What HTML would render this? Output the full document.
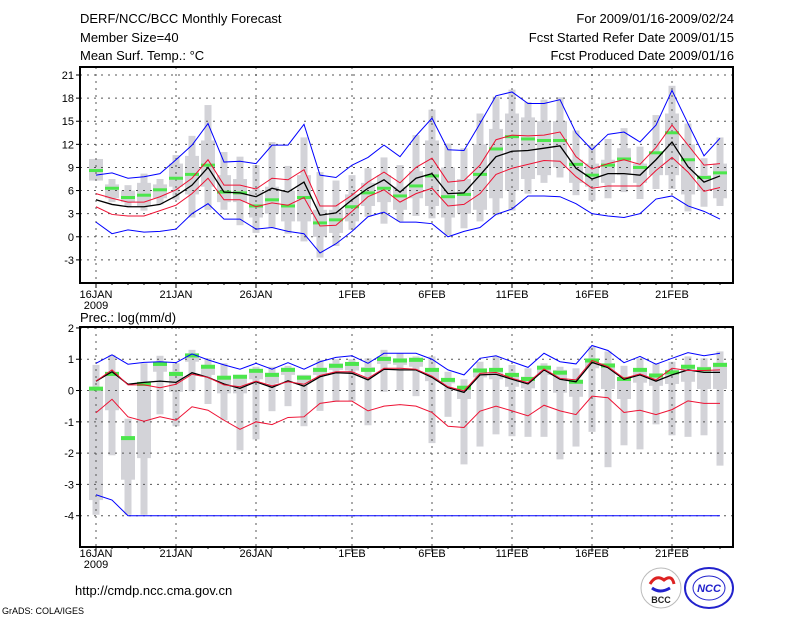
<!DOCTYPE html>
<html><head><meta charset="utf-8"><style>
body{margin:0;background:#fff;width:800px;height:618px;overflow:hidden}
svg{display:block;font-family:"Liberation Sans",sans-serif}
</style></head><body>
<svg id="c" width="800" height="618" xmlns="http://www.w3.org/2000/svg">
<text x="80" y="23" font-size="13">DERF/NCC/BCC Monthly Forecast</text>
<text x="80" y="42" font-size="13">Member Size=40</text>
<text x="80" y="60" font-size="13">Mean Surf. Temp.: °C</text>
<text x="734" y="23" font-size="13" text-anchor="end">For 2009/01/16-2009/02/24</text>
<text x="734" y="42" font-size="13" text-anchor="end">Fcst Started Refer Date 2009/01/15</text>
<text x="734" y="60" font-size="13" text-anchor="end">Fcst Produced Date 2009/01/16</text>
<text x="80" y="322" font-size="13">Prec.: log(mm/d)</text>
<text x="75" y="595" font-size="13">http://cmdp.ncc.cma.gov.cn</text>
<text x="2" y="614" font-size="9">GrADS: COLA/IGES</text>
<g>
<circle cx="661" cy="588" r="20" fill="#fff" stroke="#bbb"/>
<path d="M650 584 q6 -10 14 -4 q8 -6 10 4" stroke="#d22" stroke-width="3" fill="none"/>
<path d="M652 588 q8 6 18 0" stroke="#22c" stroke-width="3" fill="none"/>
<text x="661" y="603" font-size="9" font-weight="bold" text-anchor="middle" fill="#222">BCC</text>
</g>
<g>
<ellipse cx="709" cy="588" rx="24" ry="20" fill="#fff" stroke="#22c" stroke-width="2"/>
<ellipse cx="709" cy="588" rx="16" ry="12" fill="none" stroke="#22c"/>
<text x="709" y="592" font-size="11" font-weight="bold" font-style="italic" text-anchor="middle" fill="#22c">NCC</text>
</g>
</svg>
<script>
// ---- temperature data (40 days from 16JAN) ----
const dayLabels=["16JAN","21JAN","26JAN","1FEB","6FEB","11FEB","16FEB","21FEB"];
const labelDays=[0,5,10,16,21,26,31,36];
const tBlueHi=[8.0,8.3,7.6,7.8,8.2,10.0,11.9,14.7,9.7,9.8,9.5,11.9,11.9,14.6,8.0,7.7,9.3,10.3,11.9,10.4,13.1,15.4,11.3,11.2,14.7,18.3,18.8,17.3,17.3,17.8,13.5,11.3,13.3,13.6,12.3,14.5,19.0,14.7,10.5,12.8];
const tRedHi=[5.6,5.0,4.5,4.5,5.2,6.1,7.6,10.0,6.7,6.7,6.2,7.6,7.4,8.7,4.0,4.0,5.4,7.1,8.4,7.0,9.0,10.2,7.1,7.3,9.3,12.6,13.2,13.1,13.2,13.6,10.4,8.8,9.5,10.0,9.4,11.6,14.5,11.9,9.3,9.5];
const tMean=[4.8,4.2,3.9,3.9,4.2,5.3,6.7,9.0,5.8,5.7,5.2,6.3,5.8,7.1,2.8,3.1,4.8,6.3,7.4,5.8,7.6,8.2,5.6,5.7,8.0,10.4,11.1,11.2,11.5,11.8,8.9,7.5,8.2,8.2,8.0,10.0,12.3,9.1,7.1,7.9];
const tRedLo=[3.9,2.9,2.7,2.7,3.4,4.1,5.6,7.6,4.8,4.8,3.9,4.4,4.1,5.1,1.4,1.5,3.3,5.2,6.1,4.5,5.6,6.3,4.0,4.2,5.6,8.1,8.9,9.4,9.9,9.8,7.8,6.3,6.6,6.6,6.6,8.6,10.3,8.4,5.9,6.4];
const tBlueLo=[1.9,0.4,0.9,0.6,0.7,1.0,3.0,4.3,2.3,2.3,1.0,1.2,0.7,0.4,-2.1,-0.9,0.7,2.6,3.2,1.9,1.9,1.7,0.0,0.7,1.2,2.9,3.6,5.3,5.3,5.2,4.3,3.0,2.7,2.5,3.0,4.9,5.3,4.0,3.3,2.3];
const tGreen=[8.6,6.3,5.1,5.4,6.1,7.6,8.1,9.3,5.8,5.7,4.0,4.8,4.0,5.1,1.8,2.2,3.9,5.7,6.3,5.3,6.6,7.9,5.2,5.5,8.1,11.4,13.0,12.7,12.5,12.5,9.4,8.0,9.3,10.1,9.0,10.9,13.5,10.0,7.7,8.3];
const tMax=[10.1,7.5,6.7,8.2,7.5,10.6,13.1,17.1,11.0,10.4,9.3,12.3,9.2,12.9,8.4,7.3,8.0,8.9,10.3,9.3,13.2,16.5,12.1,11.5,16.0,18.2,19.1,17.5,17.8,18.1,13.8,11.9,12.7,14.1,11.7,15.8,19.6,14.7,10.2,12.9];
const tMin=[7.3,4.5,3.9,3.4,4.2,4.8,2.5,3.5,3.5,1.5,0.5,1.2,0.4,-0.6,-2.7,-1.2,0.9,2.6,1.7,2.0,2.7,2.4,0.2,1.1,2.0,2.8,3.4,5.6,7.0,7.7,5.4,4.7,5.0,5.8,4.9,6.2,6.2,3.3,3.9,4.0];
const tQ3=[10.1,6.8,6.0,7.0,6.8,9.5,10.5,12.5,8.0,7.5,6.0,6.5,6.0,8.0,3.5,3.5,5.5,7.0,8.0,6.5,8.5,12.5,9.0,7.5,12.0,14.0,16.0,15.5,15.0,15.0,10.0,9.5,10.0,11.5,9.5,11.0,16.0,12.0,8.0,9.5];
const tQ1=[7.3,5.0,4.5,4.0,5.0,6.5,5.5,6.5,4.5,4.5,2.5,3.0,2.0,2.0,0.0,0.5,2.0,4.0,4.5,3.5,5.0,4.0,2.5,3.0,3.5,5.0,6.0,7.5,8.0,9.0,7.0,6.5,7.0,8.0,7.0,8.0,8.0,5.5,6.0,5.0];
const tTicks=[-6,-3,0,3,6,9,12,15,18,21];
// ---- precipitation data ----
const pBlueHi=[0.87,1.14,0.84,0.90,0.92,0.89,1.17,0.98,0.82,0.68,0.87,0.68,0.89,0.68,0.92,1.06,1.11,0.87,1.19,1.19,1.19,1.0,0.66,0.5,1.03,1.11,0.92,0.74,1.19,0.92,0.85,1.44,1.28,0.89,1.09,0.84,1.03,1.21,1.11,1.19];
const pRedHi=[0.30,0.66,0.18,0.18,0.09,0.20,0.52,0.42,0.18,0.12,0.30,0.15,0.28,0.20,0.48,0.60,0.60,0.39,0.71,0.71,0.68,0.46,0.12,-0.01,0.55,0.58,0.39,0.25,0.69,0.39,0.34,0.96,0.76,0.39,0.53,0.34,0.71,0.64,0.64,0.66];
const pMean=[0.30,0.60,0.20,0.26,0.30,0.26,0.57,0.42,0.21,0.07,0.28,0.10,0.31,0.14,0.44,0.57,0.55,0.34,0.68,0.66,0.66,0.42,0.09,-0.06,0.50,0.52,0.36,0.21,0.66,0.36,0.28,0.90,0.73,0.36,0.50,0.30,0.50,0.66,0.58,0.58];
const pRedLo=[-0.71,-0.28,-0.84,-0.98,-0.84,-0.95,-0.52,-0.63,-0.95,-1.24,-1.0,-1.09,-0.86,-0.84,-0.41,-0.34,-0.34,-0.65,-0.5,-0.45,-0.5,-0.7,-1.14,-1.18,-0.66,-0.5,-0.65,-0.81,-0.47,-0.65,-0.77,-0.18,-0.23,-0.7,-0.63,-0.77,-0.61,-0.33,-0.41,-0.41];
const pBlueLo=[-3.33,-3.5,-4,-4,-4,-4,-4,-4,-4,-4,-4,-4,-4,-4,-4,-4,-4,-4,-4,-4,-4,-4,-4,-4,-4,-4,-4,-4,-4,-4,-4,-4,-4,-4,-4,-4,-4,-4,-4,-4];
const pGreen=[0.06,0.53,-1.52,0.21,0.85,0.53,1.12,0.76,0.41,0.44,0.63,0.50,0.66,0.41,0.66,0.79,0.85,0.66,1.01,0.96,0.98,0.66,0.34,0.09,0.64,0.66,0.5,0.37,0.73,0.57,0.28,0.96,0.80,0.37,0.66,0.48,0.58,0.76,0.68,0.82];
const pMax=[0.82,1.14,-0.9,0.87,1.11,0.87,1.3,1.03,0.87,0.5,0.76,0.76,0.79,0.5,0.98,1.0,1.0,1.03,1.3,1.19,1.09,1.09,0.6,0.36,0.92,1.09,0.82,0.71,0.87,0.76,0.71,1.41,1.25,0.79,1.03,0.87,0.92,1.09,1.03,1.25];
const pMin=[-3.97,-2.07,-3.97,-3.97,-0.76,-1.14,-0.02,-0.43,-0.95,-1.91,-1.56,-0.66,-0.5,-1.14,-0.65,-0.36,-0.34,-1.11,-0.04,-0.01,-0.18,-1.68,-0.84,-2.36,-1.79,-1.4,-1.46,-1.48,-1.48,-2.2,-1.79,-1.32,-2.45,-1.75,-1.88,-1.08,-1.43,-1.48,-1.43,-2.4];
const pQ3=[0.07,0.6,-1.54,0.28,0.92,0.6,1.19,0.76,0.44,0.5,0.68,0.57,0.73,0.5,0.73,0.87,0.87,0.75,1.09,1.03,1.05,0.66,0.39,0.14,0.71,0.71,0.55,0.44,0.79,0.66,0.34,0.98,0.87,0.39,0.71,0.55,0.66,0.82,0.76,0.89];
const pQ1=[-3.5,-0.63,-2.85,-2.16,0.6,-0.04,0.92,0.5,-0.09,-0.09,0.36,0.23,0.5,0.23,0.5,0.66,0.64,0.61,0.85,0.82,0.76,0.3,0.23,-0.27,0.42,0.36,0.12,0.07,0.5,-0.07,-0.2,0.71,0.05,-0.27,0.25,0.15,0.21,0.28,0.05,0.05];
const pTicks=[-5,-4,-3,-2,-1,0,1,2];

const svg=document.getElementById('c');
const NS='http://www.w3.org/2000/svg';
function mk(tag,at,parent){const e=document.createElementNS(NS,tag);for(const k in at)e.setAttribute(k,at[k]);(parent||svg).appendChild(e);return e;}
const X0=80,X1=733;
function xd(i){return 96+16*i;}

function panel(name,top,bot,vTop,vBot,ticks,data,lblY,gh){
  const yv=v=>top+(vTop-v)/(vTop-vBot)*(bot-top);
  const g=mk('g',{});
  
  
  // bars
  for(let i=0;i<40;i++){
    const o=mk('rect',{x:xd(i)-3.5,y:yv(data.max[i]),width:7,height:Math.max(1,yv(data.min[i])-yv(data.max[i])),fill:'#d3d3d8'},g);
    
    
    const q=mk('rect',{x:xd(i)-7,y:yv(data.q3[i]),width:14,height:Math.max(1,yv(data.q1[i])-yv(data.q3[i])),fill:'#d3d3d8'},g);
    
    
  }
  // grid
  ticks.forEach(t=>{
    if(t===vBot)return;
    const l=mk('line',{x1:X0,x2:X1,y1:yv(t),y2:yv(t),stroke:'#555','stroke-dasharray':'2,5'},g);
    
    
    const tx=mk('text',{x:74,y:yv(t)+4,'font-size':11,'text-anchor':'end'},g);
    tx.textContent=String(t);
    
    
    mk('line',{x1:X0-4,x2:X0,y1:yv(t),y2:yv(t),stroke:'#000'},g);
  });
  labelDays.forEach((d,k)=>{
    const l=mk('line',{x1:xd(d),x2:xd(d),y1:top,y2:bot,stroke:'#555','stroke-dasharray':'2,5'},g);
    
    
    mk('line',{x1:xd(d),x2:xd(d),y1:bot,y2:bot+5,stroke:'#000'},g);
    const tx=mk('text',{x:xd(d),y:lblY,'font-size':11,'text-anchor':'middle'},g);
    tx.textContent=dayLabels[k];
    
    
  });
  const yr=mk('text',{x:96,y:lblY+11,'font-size':11,'text-anchor':'middle'},g);
  yr.textContent='2009';
  
  
  for(let i=0;i<40;i++)mk('line',{x1:xd(i),x2:xd(i),y1:bot,y2:bot+2,stroke:'#000'},g);
  // green marks
  for(let i=0;i<40;i++){
    const r=mk('rect',{x:xd(i)-7,y:yv(data.green[i])-gh/2,width:14,height:gh,fill:'#4ce64c'},g);
    
    
  }
  const lines=[[data.blueLo,'#0000ff','lower-bound-line',1],[data.redLo,'#ee1133','lower-sd-line',1],[data.blueHi,'#0000ff','upper-bound-line',1],[data.mean,'#000','ensemble-mean-line',1.3],[data.redHi,'#ee1133','upper-sd-line',1]];
  lines.forEach(([arr,c,n,w])=>{
    const p=mk('polyline',{points:arr.map((v,i)=>xd(i)+','+yv(v)).join(' '),fill:'none',stroke:c,'stroke-width':w},g);
    
    
  });
  const f=mk('rect',{x:X0,y:top,width:X1-X0,height:bot-top,fill:'none',stroke:'#000','stroke-width':2},g);
  
  
}
panel('temperature-panel',67,283,22.04,-6,tTicks,{max:tMax,min:tMin,q3:tQ3,q1:tQ1,green:tGreen,blueHi:tBlueHi,blueLo:tBlueLo,redHi:tRedHi,redLo:tRedLo,mean:tMean},298,3);
panel('precipitation-panel',327,547,2.03,-5,pTicks,{max:pMax,min:pMin,q3:pQ3,q1:pQ1,green:pGreen,blueHi:pBlueHi,blueLo:pBlueLo,redHi:pRedHi,redLo:pRedLo,mean:pMean},557,4);
</script>
</body></html>
